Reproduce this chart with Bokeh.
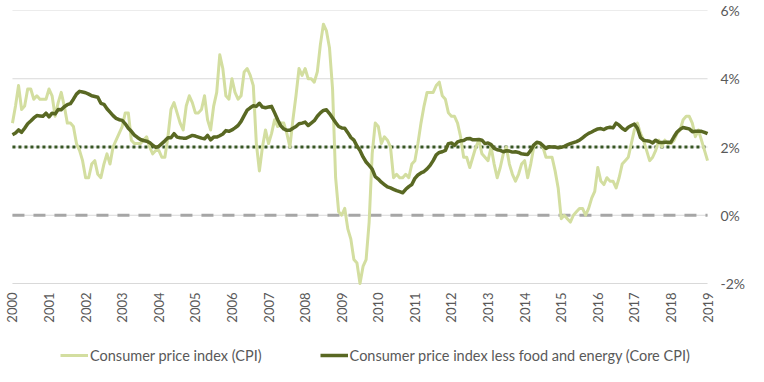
import math
from bokeh.plotting import figure
from bokeh.models import Range1d, FixedTicker, PrintfTickFormatter, Legend, LegendItem
from bokeh.core.properties import value
from bokeh.embed import file_html
from bokeh.resources import INLINE

# ---- data (monthly, Jan 2000 - Jan 2019), year-over-year % change ----
years = [str(y) for y in range(2000, 2020)]

cpi = [
    2.7, 3.2, 3.8, 3.1, 3.2, 3.7, 3.7, 3.4, 3.5, 3.4, 3.4, 3.4,      # 2000
    3.7, 3.5, 2.9, 3.3, 3.6, 3.2, 2.7, 2.7, 2.6, 2.1, 1.9, 1.6,      # 2001
    1.1, 1.1, 1.5, 1.6, 1.2, 1.1, 1.5, 1.8, 1.5, 2.0, 2.2, 2.4,      # 2002
    2.6, 3.0, 3.0, 2.2, 2.1, 2.1, 2.1, 2.2, 2.3, 2.0, 1.8, 1.9,      # 2003
    1.9, 1.7, 1.7, 2.3, 3.1, 3.3, 3.0, 2.7, 2.5, 3.2, 3.5, 3.3,      # 2004
    3.0, 3.0, 3.1, 3.5, 2.8, 2.5, 3.2, 3.6, 4.7, 4.3, 3.5, 3.4,      # 2005
    4.0, 3.6, 3.4, 3.5, 4.2, 4.3, 4.1, 3.8, 2.1, 1.3, 2.0, 2.5,      # 2006
    2.1, 2.4, 2.8, 2.6, 2.7, 2.7, 2.4, 2.0, 2.8, 3.5, 4.3, 4.1,      # 2007
    4.3, 4.0, 4.0, 3.9, 4.2, 5.0, 5.6, 5.4, 4.9, 3.7, 1.1, 0.1,      # 2008
    0.0, 0.2, -0.4, -0.7, -1.3, -1.4, -2.0, -1.5, -1.3, -0.2, 1.8, 2.7,  # 2009
    2.6, 2.1, 2.3, 2.2, 2.0, 1.1, 1.2, 1.1, 1.1, 1.2, 1.1, 1.5,      # 2010
    1.6, 2.1, 2.7, 3.2, 3.6, 3.6, 3.6, 3.8, 3.9, 3.5, 3.4, 3.0,      # 2011
    2.9, 2.9, 2.7, 2.3, 1.7, 1.7, 1.4, 1.7, 2.0, 2.2, 1.8, 1.7,      # 2012
    1.6, 2.0, 1.5, 1.1, 1.4, 1.8, 2.0, 1.5, 1.2, 1.0, 1.2, 1.5,      # 2013
    1.6, 1.1, 1.5, 2.0, 2.1, 2.1, 2.0, 1.7, 1.7, 1.7, 1.3, 0.8,      # 2014
    -0.1, 0.0, -0.1, -0.2, 0.0, 0.1, 0.2, 0.2, 0.0, 0.2, 0.5, 0.7,  # 2015
    1.4, 1.0, 0.9, 1.1, 1.0, 1.0, 0.8, 1.1, 1.5, 1.6, 1.7, 2.1,      # 2016
    2.5, 2.7, 2.4, 2.2, 1.9, 1.6, 1.7, 1.9, 2.2, 2.0, 2.2, 2.1,      # 2017
    2.1, 2.2, 2.4, 2.5, 2.8, 2.9, 2.9, 2.7, 2.3, 2.5, 2.2, 1.9,      # 2018
    1.6,                                                             # 2019
]

core = [
    2.36, 2.41, 2.50, 2.43, 2.55, 2.68, 2.76, 2.85, 2.92, 2.91, 2.90, 2.99,  # 2000
    2.88, 2.99, 2.97, 3.10, 3.09, 3.18, 3.24, 3.27, 3.40, 3.55, 3.63, 3.61,  # 2001
    3.59, 3.55, 3.50, 3.48, 3.46, 3.28, 3.25, 3.12, 3.02, 2.92, 2.84, 2.80,  # 2002
    2.78, 2.68, 2.55, 2.46, 2.35, 2.28, 2.22, 2.19, 2.17, 2.13, 2.05, 1.99,  # 2003
    2.02, 2.10, 2.18, 2.27, 2.27, 2.39, 2.29, 2.27, 2.26, 2.26, 2.30, 2.34,  # 2004
    2.32, 2.29, 2.26, 2.24, 2.34, 2.21, 2.29, 2.29, 2.33, 2.38, 2.48, 2.46,  # 2005
    2.50, 2.56, 2.63, 2.75, 2.92, 3.08, 3.15, 3.21, 3.19, 3.28, 3.17, 3.15,  # 2006
    3.17, 3.19, 3.00, 2.80, 2.62, 2.53, 2.49, 2.49, 2.55, 2.60, 2.68, 2.70,  # 2007
    2.73, 2.63, 2.70, 2.77, 2.90, 3.00, 3.07, 3.09, 2.98, 2.85, 2.72, 2.60,  # 2008
    2.56, 2.55, 2.42, 2.28, 2.20, 2.03, 1.90, 1.71, 1.56, 1.46, 1.35, 1.13,  # 2009
    1.06, 0.97, 0.90, 0.83, 0.80, 0.76, 0.72, 0.69, 0.66, 0.76, 0.84, 0.90,  # 2010
    1.08, 1.18, 1.24, 1.28, 1.36, 1.46, 1.60, 1.77, 1.84, 1.86, 1.90, 2.10,  # 2011
    2.12, 2.05, 2.15, 2.18, 2.19, 2.24, 2.25, 2.21, 2.21, 2.22, 2.20, 2.10,  # 2012
    2.12, 2.07, 1.96, 1.92, 1.90, 1.86, 1.89, 1.88, 1.85, 1.86, 1.84, 1.80,  # 2013
    1.79, 1.78, 1.90, 2.06, 2.14, 2.12, 2.04, 1.96, 2.01, 2.00, 2.00, 1.98,  # 2014
    1.99, 2.02, 2.06, 2.10, 2.13, 2.16, 2.20, 2.27, 2.34, 2.40, 2.44, 2.49,  # 2015
    2.53, 2.54, 2.51, 2.56, 2.58, 2.56, 2.70, 2.64, 2.55, 2.49, 2.58, 2.63,  # 2016
    2.67, 2.55, 2.28, 2.20, 2.18, 2.17, 2.12, 2.20, 2.14, 2.13, 2.14, 2.14,  # 2017
    2.14, 2.30, 2.44, 2.52, 2.57, 2.55, 2.53, 2.45, 2.46, 2.46, 2.46, 2.43,  # 2018
    2.39,                                                                    # 2019
]

target_level = 2.0
zero_level = 0.0
y_ticks = [-2, 0, 2, 4, 6]

cpi_label = "Consumer price index (CPI)"
core_label = "Consumer price index less food and energy (Core CPI)"

# ---- styling ----
FONT = "Lato"
TEXT = "#595959"
CPI_COLOR = "#d3dea0"
CORE_COLOR = "#596823"
TARGET_COLOR = "#375623"
ZERO_COLOR = "#a6a6a6"
GRID = "#d9d9d9"

W, H = 748, 366
TOP = 10            # frame top (px)
PLOT_BOTTOM = 283   # pixel row of the lowest gridline
FRAME_LEFT = 4
RIGHT_BORDER = 29
DATA_LEFT_PX, DATA_RIGHT_PX = 12, 711

months = list(range(len(cpi)))
year_ticks = [12 * i for i in range(len(years))]

px_per_unit = (PLOT_BOTTOM - TOP) / (y_ticks[-1] - y_ticks[0])
y_min = y_ticks[0] - (H - PLOT_BOTTOM) / px_per_unit   # room below for year labels + legend
label_y = y_ticks[0] - 9 / px_per_unit                  # year labels just under the -2% line

px_per_month = (DATA_RIGHT_PX - DATA_LEFT_PX) / (months[-1] - months[0])
x_pad_l = (DATA_LEFT_PX - FRAME_LEFT) / px_per_month
x_pad_r = (W - RIGHT_BORDER - DATA_RIGHT_PX) / px_per_month

p = figure(width=W, height=H, output_backend="svg", toolbar_location=None,
           x_range=Range1d(months[0] - x_pad_l, months[-1] + x_pad_r),
           y_range=Range1d(y_min, y_ticks[-1]),
           y_axis_location="right",
           min_border_left=FRAME_LEFT, min_border_right=RIGHT_BORDER,
           min_border_top=TOP, min_border_bottom=0)
p.outline_line_color = None
p.background_fill_color = "white"
p.border_fill_color = "white"

p.xaxis.visible = False
p.xgrid.visible = False
p.ygrid.visible = False

n = len(y_ticks)
# horizontal gridlines spanning the data period
p.segment(x0=[months[0]] * n, y0=y_ticks, x1=[months[-1]] * n, y1=y_ticks,
          line_color=GRID, line_width=1)
# 0% and 2% reference lines
p.line([months[0], months[-1]], [zero_level, zero_level], line_color=ZERO_COLOR,
       line_width=3, line_dash="12 9")
p.line([months[0], months[-1]], [target_level, target_level], line_color=TARGET_COLOR,
       line_width=3, line_dash="3 3")

r_cpi = p.line(months, cpi, line_color=CPI_COLOR, line_width=3, line_join="round")
r_core = p.line(months, core, line_color=CORE_COLOR, line_width=3.5, line_join="round")

# year labels (vertical, reading upward), placed through the data scales
p.text(x=year_ticks, y=[label_y] * len(years), text=years, angle=math.pi / 2,
       text_align="right", text_baseline="middle",
       text_font=value(FONT), text_font_size="13px", text_color=TEXT)

# y axis (right)
ya = p.yaxis[0]
ya.ticker = FixedTicker(ticks=y_ticks)
ya.formatter = PrintfTickFormatter(format="%d%%")
ya.axis_line_color = None
ya.major_tick_line_color = None
ya.minor_tick_line_color = None
ya.major_tick_out = 0
ya.major_tick_in = 0
ya.minor_tick_out = 0
ya.minor_tick_in = 0
ya.major_label_standoff = 5
ya.major_label_text_font = FONT
ya.major_label_text_font_size = "14px"
ya.major_label_text_color = TEXT

legend = Legend(items=[LegendItem(label=cpi_label, renderers=[r_cpi]),
                       LegendItem(label=core_label, renderers=[r_core])],
                orientation="horizontal", location=(56, 1),
                label_text_font=FONT, label_text_font_size="14.5px", label_text_color=TEXT,
                glyph_width=28, glyph_height=20, label_height=20, label_standoff=2,
                spacing=58, padding=1, margin=0,
                border_line_color=None, background_fill_alpha=0)
p.add_layout(legend)

open("out.html", "w").write(file_html(p, INLINE))
